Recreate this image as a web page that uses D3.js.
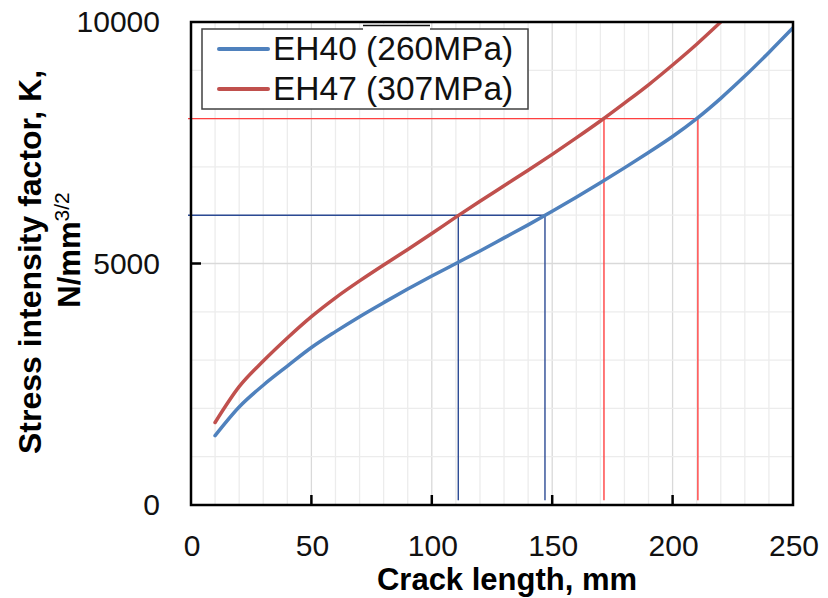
<!DOCTYPE html>
<html>
<head>
<meta charset="utf-8">
<script src="https://cdn.jsdelivr.net/npm/d3@7/dist/d3.min.js"></script>
<style>
  body { margin: 0; background: #fff; }
  svg { display: block; font-family: "Liberation Sans", Arial, sans-serif; }
</style>
</head>
<body>
<svg id="chart" width="828" height="598"></svg>
<script>
// crack length (mm) and stress intensity factor K (N/mm^3/2)
const crackLength = [10, 20, 30, 40, 50, 60, 70, 80, 90, 100, 110, 120, 130,
  140, 150, 160, 170, 180, 190, 200, 210, 220, 230, 240, 250];
const eh40 = [1437, 2030, 2480, 2875, 3260, 3590, 3900, 4190, 4470, 4740, 5000,
  5260, 5530, 5800, 6080, 6370, 6670, 6980, 7300, 7630, 8000, 8420, 8880, 9370, 9880];
const eh47 = [1708, 2450, 2980, 3458, 3900, 4290, 4640, 4970, 5290, 5620, 5960,
  6290, 6610, 6930, 7260, 7600, 7950, 8320, 8700, 9110, 9540, 10000];

const seriesNames = ['EH40 (260MPa)', 'EH47 (307MPa)'];
const seriesColors = ['#4f81bd', '#c0504d'];

const xTicks = [0, 50, 100, 150, 200, 250];
const yTicks = [0, 5000, 10000];

// guide lines: K level and the crack lengths where each curve reaches it
const blueGuideK = 6000;
const blueGuideX = [111, 147];
const redGuideK = 8000;
const redGuideX = [171.5, 210.5];

const svg = d3.select('#chart');
const margin = { top: 22, right: 35, bottom: 93, left: 191 };
const width = +svg.attr('width') - margin.left - margin.right;
const height = +svg.attr('height') - margin.top - margin.bottom;

const x = d3.scaleLinear().domain([0, 250]).range([0, width]);
const y = d3.scaleLinear().domain([0, 10000]).range([height, 0]);

const g = svg.append('g').attr('transform', `translate(${margin.left},${margin.top})`);

g.append('clipPath').attr('id', 'plot-clip')
  .append('rect').attr('width', width).attr('height', height);

// grid
g.append('g').selectAll('line')
  .data(d3.range(10, 250, 10))
  .join('line')
  .attr('x1', d => x(d)).attr('x2', d => x(d))
  .attr('y1', 0).attr('y2', height)
  .attr('stroke', d => d % 50 === 0 ? '#d9d9d9' : '#ececec')
  .attr('stroke-width', 1.3);

g.append('g').selectAll('line')
  .data(d3.range(1000, 10000, 1000))
  .join('line')
  .attr('x1', 0).attr('x2', width)
  .attr('y1', d => y(d)).attr('y2', d => y(d))
  .attr('stroke', d => d % 5000 === 0 ? '#d9d9d9' : '#ececec')
  .attr('stroke-width', 1.3);

// guide lines
function guides(k, xs, color) {
  const gg = g.append('g').attr('stroke', color).attr('stroke-width', 1.4).attr('fill', 'none');
  gg.append('line')
    .attr('x1', -3).attr('x2', x(d3.max(xs)))
    .attr('y1', y(k)).attr('y2', y(k));
  gg.selectAll('.v').data(xs).join('line')
    .attr('x1', d => x(d)).attr('x2', d => x(d))
    .attr('y1', y(k)).attr('y2', y(100));
}
guides(blueGuideK, blueGuideX, '#2b4a94');
guides(redGuideK, redGuideX, '#ff4040');

// curves
const line = d3.line()
  .x(d => x(d[0]))
  .y(d => y(d[1]))
  .curve(d3.curveMonotoneX);

[eh40, eh47].forEach((vals, i) => {
  g.append('path')
    .datum(vals.map((v, j) => [crackLength[j], v]))
    .attr('clip-path', 'url(#plot-clip)')
    .attr('fill', 'none')
    .attr('stroke', seriesColors[i])
    .attr('stroke-width', 3.5)
    .attr('stroke-linecap', 'round')
    .attr('d', line);
});

// frame and inward ticks
g.append('rect')
  .attr('width', width).attr('height', height)
  .attr('fill', 'none').attr('stroke', '#000').attr('stroke-width', 2.5);

g.append('g').selectAll('line')
  .data(xTicks.slice(1, -1))
  .join('line')
  .attr('x1', d => x(d)).attr('x2', d => x(d))
  .attr('y1', height).attr('y2', height - 10)
  .attr('stroke', '#000').attr('stroke-width', 2.5);

g.append('g').selectAll('line')
  .data(yTicks.slice(1, -1))
  .join('line')
  .attr('x1', 0).attr('x2', 10)
  .attr('y1', d => y(d)).attr('y2', d => y(d))
  .attr('stroke', '#000').attr('stroke-width', 2.5);

// tick labels
g.append('g').selectAll('text')
  .data(xTicks)
  .join('text')
  .attr('x', d => x(d) + 1)
  .attr('y', height + 51)
  .attr('text-anchor', 'middle')
  .attr('font-size', 30)
  .attr('fill', '#111')
  .text(d => d);

g.append('g').selectAll('text')
  .data(yTicks)
  .join('text')
  .attr('x', -31)
  .attr('y', d => Math.max(y(d), -4) + 10)
  .attr('text-anchor', 'end')
  .attr('font-size', 30)
  .attr('fill', '#111')
  .text(d => d);

// axis titles
svg.append('text')
  .attr('x', 507).attr('y', 590)
  .attr('text-anchor', 'middle')
  .attr('font-size', 31).attr('font-weight', 'bold')
  .text('Crack length, mm');

svg.append('text')
  .attr('transform', 'translate(41,262) rotate(-90)')
  .attr('text-anchor', 'middle')
  .attr('font-size', 32).attr('font-weight', 'bold')
  .text('Stress intensity factor, K,');

const t2 = svg.append('text')
  .attr('transform', 'translate(80,250) rotate(-90)')
  .attr('text-anchor', 'middle')
  .attr('font-size', 31).attr('font-weight', 'bold');
t2.append('tspan').text('N/mm');
t2.append('tspan').attr('font-size', 21).attr('font-weight', 'normal').attr('dy', -11).text('3/2');

// legend
const lg = svg.append('g').attr('transform', 'translate(202,29)');
lg.append('rect')
  .attr('width', 326).attr('height', 80)
  .attr('fill', '#fff').attr('stroke', '#404040').attr('stroke-width', 1.5);
seriesNames.forEach((name, i) => {
  lg.append('line')
    .attr('x1', 17).attr('x2', 66)
    .attr('y1', 20 + i * 40).attr('y2', 20 + i * 40)
    .attr('stroke', seriesColors[i]).attr('stroke-width', 4)
    .attr('stroke-linecap', 'round');
  lg.append('text')
    .attr('x', 71).attr('y', 31 + i * 40)
    .attr('font-size', 33.5)
    .attr('fill', '#111')
    .text(name);
});
// pasted-over patch on the legend border above "260"
lg.append('rect').attr('x', 161).attr('y', -5).attr('width', 67).attr('height', 7).attr('fill', '#fff');
lg.append('line').attr('x1', 161).attr('x2', 228).attr('y1', -3.5).attr('y2', -3.5)
  .attr('stroke', '#111').attr('stroke-width', 1.5);
</script>
</body>
</html>
